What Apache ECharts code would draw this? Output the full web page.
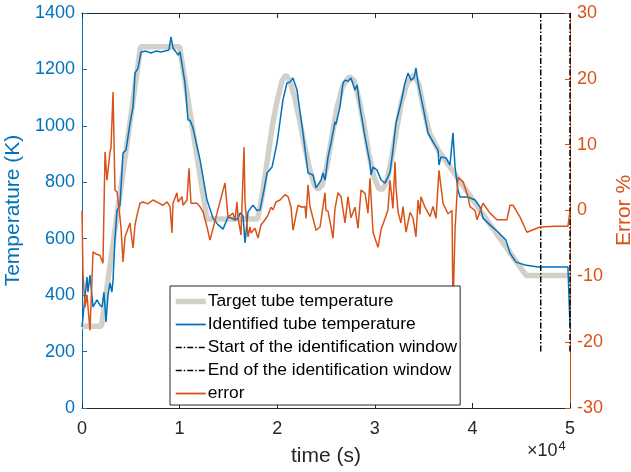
<!DOCTYPE html>
<html>
<head>
<meta charset="utf-8">
<script src="https://cdn.jsdelivr.net/npm/echarts@6/dist/echarts.min.js"></script>
<style>
html,body{margin:0;padding:0;background:#fff;}
#chart{width:631px;height:472px;}
</style>
</head>
<body>
<div id="chart"></div>
<script>
// ---------- data (time in seconds) ----------
const xTicks = [0, 10000, 20000, 30000, 40000, 50000];
const leftTicks = [0, 200, 400, 600, 800, 1000, 1200, 1400];
const rightTicks = [-30, -20, -10, 0, 10, 20, 30];

const targetTime = [0, 2000, 6000, 10000, 12800, 18000, 18500, 19000, 19500, 20000, 20500, 20900, 21300, 21800, 22300, 22800, 23300, 23800, 24200, 24600, 25100, 25600, 26100, 26700, 27400, 27900, 28400, 28900, 29400, 29900, 30400, 30800, 31200, 31700, 32200, 32700, 33300, 34000, 34500, 35000, 35600, 36500, 40800, 45500, 50000];
const targetTemp = [290, 290, 1280, 1280, 670, 670, 760, 880, 1000, 1090, 1160, 1180, 1160, 1100, 1020, 930, 850, 790, 775, 790, 860, 960, 1060, 1140, 1175, 1160, 1090, 1000, 900, 820, 778, 775, 800, 880, 980, 1080, 1150, 1180, 1150, 1060, 975, 914, 700, 470, 470];

const identTime = [0, 510, 610, 820, 1130, 1540, 1840, 2050, 2250, 2460, 2660, 2870, 3070, 3180, 3380, 3590, 3890, 4200, 4510, 4920, 5230, 5430, 5740, 6050, 6560, 7070, 7580, 8090, 8610, 8910, 9120, 9320, 9630, 9840, 10040, 10550, 10860, 11070, 11370, 12090, 12810, 13420, 13930, 14450, 14960, 15370, 15680, 15980, 16190, 16500, 16700, 17010, 17520, 17930, 18240, 18650, 18960, 19470, 19980, 20590, 21000, 21310, 21620, 22030, 22640, 23160, 23670, 23980, 24490, 24690, 24900, 25210, 25510, 25920, 26020, 26430, 26740, 26950, 27250, 27560, 27970, 28180, 28480, 29000, 29510, 29610, 29820, 30230, 30640, 31050, 31350, 31560, 31860, 32170, 32680, 33090, 33400, 33710, 34020, 34220, 34430, 34940, 35450, 35960, 36480, 36580, 36780, 37300, 37700, 38010, 38220, 38520, 38730, 39550, 40270, 40780, 41090, 41800, 42620, 43440, 43850, 44470, 45390, 46720, 49790, 50000];
const identTemp = [287, 464, 411, 471, 358, 383, 365, 358, 410, 305, 400, 443, 411, 454, 602, 700, 719, 904, 914, 1010, 1067, 1187, 1205, 1262, 1265, 1258, 1265, 1262, 1266, 1269, 1315, 1276, 1262, 1251, 1262, 1152, 1021, 1020, 992, 880, 737, 673, 650, 634, 677, 672, 666, 673, 691, 680, 585, 695, 719, 700, 702, 773, 833, 854, 939, 1092, 1152, 1155, 1170, 1127, 975, 833, 826, 780, 808, 833, 808, 890, 939, 1014, 1005, 1067, 1152, 1162, 1158, 1170, 1127, 1145, 1067, 960, 868, 826, 854, 843, 808, 797, 819, 836, 914, 1010, 1081, 1152, 1187, 1162, 1170, 1205, 1152, 1067, 975, 943, 914, 861, 890, 886, 861, 975, 854, 773, 748, 748, 737, 712, 673, 649, 624, 595, 549, 517, 507, 500, 500, 290];

const startWindowTime = [47000, 47000];
const startWindowTemp = [200, 1400];
const endWindowTime = [50000, 50000];
const endWindowTemp = [200, 1400];

const errorTime = [0, 100, 310, 510, 820, 1130, 1430, 1840, 2150, 2360, 2560, 2870, 2970, 3180, 3380, 3590, 3890, 4000, 4200, 4410, 4610, 4920, 5020, 5230, 5430, 5640, 5940, 6250, 6760, 7270, 7790, 8300, 8710, 9020, 9220, 9320, 9730, 9840, 10250, 10350, 10760, 10960, 11170, 11370, 11780, 12090, 12400, 12810, 13110, 14650, 14960, 15160, 15470, 15680, 15880, 15980, 16290, 16600, 16700, 17010, 17210, 17320, 17730, 18030, 18340, 18750, 19060, 19360, 19570, 19880, 20290, 20800, 21110, 21410, 21620, 22130, 22540, 22850, 22950, 23160, 23360, 23460, 23980, 24390, 24900, 25000, 25210, 25720, 25920, 26230, 26540, 26950, 27250, 27560, 27970, 28280, 28590, 29000, 29300, 29510, 29820, 30330, 30640, 31050, 31350, 31560, 31860, 32070, 32170, 32380, 32680, 32890, 33200, 33610, 33910, 34220, 34430, 34630, 34730, 35140, 35660, 35960, 36270, 36580, 36990, 37500, 37910, 38010, 38220, 38520, 39040, 39550, 39750, 40270, 40470, 41090, 41800, 42520, 43540, 43850, 44160, 44880, 45590, 46930, 48460, 49790, 50000];
const errorVal = [0, -9.5, -14.7, -12.8, -18.2, -6.3, -6.6, -6.8, -8.0, 8.9, 4.6, 8.9, 9.5, 18, 3.1, 2.8, -1, -2.7, -7.8, -4, -4, -1.9, -3.3, -5.7, -2.2, -0.7, 1.1, 1.3, 1.0, 1.6, 1.2, 0.8, 1.3, 0.6, -3.4, 1.1, 2.7, 1.3, 2.1, 0.8, 1.6, 6.4, 1.1, 0.8, 1.1, 0.6, -0.2, -2.5, -4.5, 4.2, -1.0, -0.7, -0.4, -1.4, 1.3, -1.0, -3.7, 9.6, 1.3, -4, -2.5, -3.4, -2.7, -4.2, -2.2, -1.4, -0.7, 0.5, 0.1, 1.3, 1.6, 2.4, 2.1, 0.6, -3, 0.8, 0.5, 0.6, -1.2, 3.9, 0.6, 0.3, -3, -2.5, 2.7, 0, -0.1, -4.2, 0.3, 2.7, 2.1, -1.9, 2.1, -1.1, 0.5, -2.7, 3.1, 2.6, -0.4, 4.9, -3.3, -5.6, -2.9, -1.2, 0.1, 4.6, 0.3, 7.4, 3.6, -0.2, -1.9, 0.6, -3.3, -0.3, -1.1, -4, 1.6, -0.6, 2.1, 0.5, -0.9, 0.6, -1.2, 6.1, 1.1, -0.5, 0, -15, -3, 5.0, 4.4, 2.1, 0.6, 0, -1.4, 1.1, -0.4, -1.4, -1.4, 0.8, 0.8, -1, -3.3, -2.5, -2.4, -2.4, 0];

// ---------- build ----------
const zip = (a, b) => a.map((v, i) => [v, b[i]]);
const BLUE = '#0072BD', ORANGE = '#D95319', AXIS = '#262626', GRAY = '#D3D0CA';
const FONT = 'Liberation Sans, Arial, sans-serif';
const DASH = [6, 2, 1.5, 2];

const chart = echarts.init(document.getElementById('chart'), null, {renderer: 'canvas'});
const grid = {left: 82, right: 61, top: 13, bottom: 64, containLabel: false, outerBoundsMode: 'none'};

const option = {
  animation: false,
  backgroundColor: '#fff',
  grid: grid,
  legend: {
    orient: 'vertical',
    left: 170, top: 286,
    itemWidth: 30, itemHeight: 14, itemGap: 0,
    padding: [4, 3, 0, 3],
    backgroundColor: '#fff',
    borderColor: AXIS, borderWidth: 1,
    borderRadius: 0,
    itemStyle: {opacity: 0},
    textStyle: {fontFamily: FONT, fontSize: 17.4, color: '#000', lineHeight: 23, padding: [0, 0, 0, -3]},
    data: [
      {name: 'Target tube temperature', lineStyle: {width: 5.5, color: GRAY}},
      {name: 'Identified tube temperature', lineStyle: {width: 1.8, color: BLUE}},
      {name: 'Start of the identification window', lineStyle: {width: 1.5, color: '#000', type: DASH}},
      {name: 'End of the identification window', lineStyle: {width: 1.5, color: '#000', type: DASH}},
      {name: 'error', lineStyle: {width: 1.8, color: ORANGE}}
    ]
  },
  xAxis: [{
    type: 'value', min: xTicks[0], max: xTicks[xTicks.length - 1], interval: xTicks[1] - xTicks[0],
    position: 'bottom',
    name: 'time (s)', nameLocation: 'middle', nameGap: 38,
    nameTextStyle: {fontFamily: FONT, fontSize: 21, color: AXIS},
    axisLine: {show: true, onZero: false, lineStyle: {color: AXIS, width: 1}},
    axisTick: {show: true, inside: true, length: 5, lineStyle: {color: AXIS}},
    axisLabel: {fontFamily: FONT, fontSize: 18, color: AXIS, margin: 12, formatter: v => String(v / 10000)},
    splitLine: {show: false}
  }, {
    type: 'value', min: xTicks[0], max: xTicks[xTicks.length - 1], interval: xTicks[1] - xTicks[0],
    position: 'top',
    axisLine: {show: true, onZero: false, lineStyle: {color: AXIS, width: 1}},
    axisTick: {show: true, inside: true, length: 5, lineStyle: {color: AXIS}},
    axisLabel: {show: false},
    splitLine: {show: false}
  }],
  yAxis: [{
    type: 'value', min: leftTicks[0], max: leftTicks[leftTicks.length - 1], interval: leftTicks[1] - leftTicks[0],
    position: 'left',
    name: 'Temperature (K)', nameLocation: 'middle', nameGap: 55,
    nameTextStyle: {fontFamily: FONT, fontSize: 21, color: BLUE},
    axisLine: {show: true, onZero: false, lineStyle: {color: BLUE, width: 1}},
    axisTick: {show: true, inside: true, length: 5, lineStyle: {color: BLUE}},
    axisLabel: {fontFamily: FONT, fontSize: 18, color: BLUE, margin: 7, formatter: v => String(v)},
    splitLine: {show: false}
  }, {
    type: 'value', min: rightTicks[0], max: rightTicks[rightTicks.length - 1], interval: rightTicks[1] - rightTicks[0],
    position: 'right',
    name: 'Error %', nameLocation: 'middle', nameGap: 41,
    nameTextStyle: {fontFamily: FONT, fontSize: 21, color: ORANGE},
    axisLine: {show: true, onZero: false, lineStyle: {color: ORANGE, width: 1}},
    axisTick: {show: true, inside: true, length: 5, lineStyle: {color: ORANGE}},
    axisLabel: {fontFamily: FONT, fontSize: 18, color: ORANGE, margin: 7, formatter: v => String(v)},
    splitLine: {show: false}
  }],
  graphic: [{
    type: 'text', left: 527, top: 440,
    style: {
      text: '×10{sup|4}',
      font: '18px ' + FONT, fill: AXIS,
      rich: {sup: {fontSize: 13, fontFamily: FONT, fill: AXIS, verticalAlign: 'top', padding: [0, 0, 10, 1]}}
    }
  }],
  series: [{
    name: 'Target tube temperature', type: 'line', xAxisIndex: 0, yAxisIndex: 0,
    data: zip(targetTime, targetTemp), showSymbol: false, symbol: 'none',
    lineStyle: {color: GRAY, width: 5.5}, itemStyle: {color: GRAY}, z: 2
  }, {
    name: 'Identified tube temperature', type: 'line', xAxisIndex: 0, yAxisIndex: 0,
    data: zip(identTime, identTemp), showSymbol: false, symbol: 'none',
    lineStyle: {color: BLUE, width: 1.5}, itemStyle: {color: BLUE}, z: 3
  }, {
    name: 'Start of the identification window', type: 'line', xAxisIndex: 0, yAxisIndex: 0,
    data: zip(startWindowTime, startWindowTemp), showSymbol: false, symbol: 'none',
    lineStyle: {color: '#000', width: 1.5, type: DASH}, itemStyle: {color: '#000'}, z: 3
  }, {
    name: 'End of the identification window', type: 'line', xAxisIndex: 0, yAxisIndex: 0,
    data: zip(endWindowTime, endWindowTemp), showSymbol: false, symbol: 'none',
    lineStyle: {color: '#000', width: 1.5, type: DASH}, itemStyle: {color: '#000'}, z: 3
  }, {
    name: 'error', type: 'line', xAxisIndex: 0, yAxisIndex: 1,
    data: zip(errorTime, errorVal), showSymbol: false, symbol: 'none',
    lineStyle: {color: ORANGE, width: 1.5}, itemStyle: {color: ORANGE}, z: 3
  }]
};
chart.setOption(option);
</script>
</body>
</html>
